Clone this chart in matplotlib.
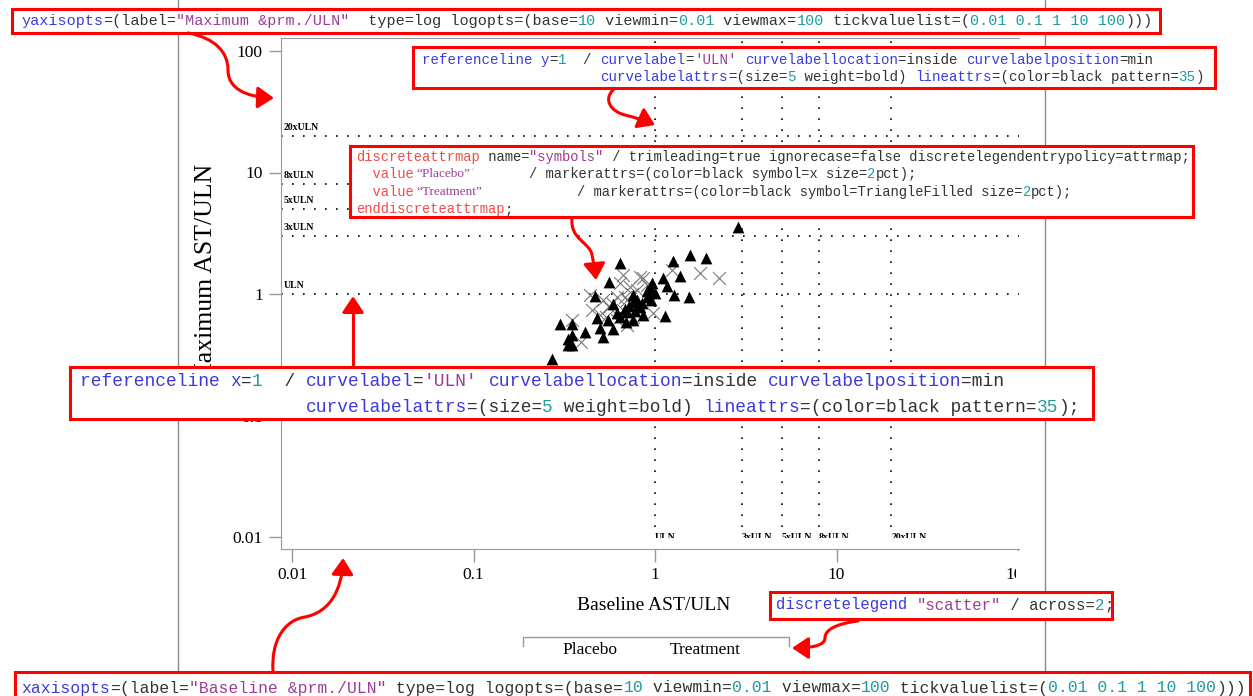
import matplotlib
matplotlib.use('Agg')
import numpy as np
import matplotlib.pyplot as plt
from matplotlib.patches import Rectangle, FancyArrowPatch
from matplotlib.lines import Line2D
from matplotlib.path import Path
from matplotlib.transforms import Affine2D
from matplotlib.ticker import NullLocator

plt.rcParams['font.family'] = ['Liberation Serif', 'DejaVu Serif']

# data
treat_x = [1.56, 1.91, 1.26, 0.64, 1.37, 1.11, 0.56, 1.16, 0.96, 0.94, 1.27, 1.54, 0.47, 0.76, 0.90,
           1.00, 0.59, 0.76, 0.83, 0.70, 0.86, 0.64, 0.48, 0.55, 1.14, 0.76, 0.50, 0.59, 0.30, 0.35,
           0.41, 0.52, 0.35, 0.33, 0.33, 0.35, 0.27, 2.87, 0.69, 0.62, 0.80, 0.85, 0.72, 0.90, 0.68,
           0.95, 0.78]
treat_y = [2.09, 1.98, 1.87, 1.80, 1.41, 1.35, 1.26, 1.16, 1.23, 1.12, 0.98, 0.94, 0.96, 0.98, 0.94,
           1.02, 0.83, 0.86, 0.78, 0.71, 0.67, 0.65, 0.63, 0.61, 0.66, 0.61, 0.53, 0.52, 0.57, 0.57,
           0.49, 0.44, 0.46, 0.43, 0.38, 0.38, 0.29, 3.56, 0.59, 0.70, 0.90, 0.85, 0.80, 1.05, 0.75,
           0.90, 0.72]
placebo_x = [1.77, 2.25, 0.67, 0.83, 0.64, 0.44, 0.52, 0.56, 0.45, 0.50, 0.73, 0.80, 0.97, 0.70,
             0.35, 0.39, 0.86, 1.24, 0.62, 0.67, 0.54, 0.76, 0.62, 0.90, 0.70, 0.58, 0.75, 0.68]
placebo_y = [1.49, 1.35, 1.43, 1.38, 1.23, 0.98, 0.89, 0.78, 0.74, 0.67, 1.14, 1.08, 0.70, 0.56,
             0.61, 0.40, 1.35, 1.58, 0.94, 0.74, 0.65, 0.65, 0.61, 1.19, 0.89, 0.85, 1.00, 0.95]

ref_vals = [1, 3, 5, 8, 20]
ref_labels = ['ULN', '3xULN', '5xULN', '8xULN', '20xULN']
ticks = [0.01, 0.1, 1, 10, 100]
tick_labels = ['0.01', '0.1', '1', '10', '100']
legend_labels = ['Placebo', 'Treatment']

W, H = 1253, 696
fig = plt.figure(figsize=(W / 100, H / 100), dpi=100)
renderer = fig.canvas.get_renderer()
# pixel coords (origin top-left) for the annotation layer
tr = Affine2D().scale(1 / W, -1 / H).translate(0, 1) + fig.transFigure

ax = fig.add_axes([281 / W, 1 - 549 / H, (1019 - 281) / W, (549 - 38) / H])
ax.set_xscale('log')
ax.set_yscale('log')
ax.set_xlim(10 ** (-2 - 11 / 181.5), 10 ** (2 + 1 / 181.5))
ax.set_ylim(10 ** (-255 / 121.5), 10 ** (256 / 121.5))
ax.set_xticks(ticks)
ax.set_xticklabels(tick_labels)
ax.set_yticks(ticks)
ax.set_yticklabels(tick_labels)
ax.xaxis.set_minor_locator(NullLocator())
ax.yaxis.set_minor_locator(NullLocator())
ax.tick_params(direction='out', length=9, width=1, color='#999999', labelsize=12.5, pad=4)
ax.spines['right'].set_visible(False)
for s in ['left', 'bottom', 'top']:
    ax.spines[s].set_color('#999999')

dots = (0, (1, 5.6))
vmin = 0.012
for v, lbl in zip(ref_vals, ref_labels):
    ax.axhline(v, color='black', lw=1.2, ls=dots, zorder=1)
    ax.annotate(lbl, xy=(0, v), xycoords=ax.get_yaxis_transform(), xytext=(2, 3),
                textcoords='offset points', fontsize=7, fontweight='bold', ha='left', va='bottom')
    ax.vlines(v, vmin, ax.get_ylim()[1], color='black', lw=1.2, linestyles=[dots], zorder=1)
    ax.annotate(lbl, xy=(v, vmin), xytext=(0, -4), textcoords='offset points',
                fontsize=7, fontweight='bold', ha='left', va='top')

ax.scatter(placebo_x, placebo_y, marker='x', s=85, c='#7a7a7a', linewidths=0.8, zorder=3)
ax.scatter(treat_x, treat_y, marker='^', s=72, c='black', linewidths=0, zorder=4)

fig.text(654, 606, 'Baseline AST/ULN', transform=tr, fontsize=14, ha='center', va='center')
fig.text(206, 274, 'Maximum AST/ULN', transform=tr, fontsize=18.5, rotation=90,
         ha='center', va='center')

# cropped parts of the original graph
for x0, y0, w, h in [(560, 609.5, 200, 20), (1016, 551, 26, 40), (283, 538, 730, 9.5)]:
    fig.add_artist(Rectangle((x0, y0), w, h, transform=tr, fc='white', ec='none', zorder=6))

# legend
fig.add_artist(Line2D([523, 523, 789, 789], [646, 637, 637, 646], transform=tr,
                      color='#999999', lw=1))
for xc, lbl in zip([590, 705], legend_labels):
    fig.text(xc, 650, lbl, transform=tr, fontsize=12.5, ha='center', va='center')

# page borders
for xp in [178, 1045]:
    fig.add_artist(Line2D([xp, xp], [0, H], transform=tr, color='#8a8a8a', lw=1, zorder=2))

# code call-outs
B, K, P, T, S = '#3b3bdc', '#333333', '#9b3d97', '#1f9c9c', '#f24b4b'


def text_w(n, size):
    t = fig.text(0, 0, 'x' * n, family='Liberation Mono', fontsize=size)
    w = t.get_window_extent(renderer).width
    t.remove()
    return w


def char_width(size):
    return (text_w(200, size) - text_w(100, size)) / 100


def fit(target):
    sizes = np.arange(target / 0.6 * 0.72 - 1, target / 0.6 * 0.72 + 1, 0.05)
    best = min(sizes, key=lambda s: abs(char_width(s) - target))
    return best, char_width(best)


def box(x0, y0, x1, y1):
    fig.add_artist(Rectangle((x0, y0), x1 - x0, y1 - y0, transform=tr, fc='white',
                             ec='red', lw=2.2, zorder=10))


def code(x, y, segs, font):
    size, cw = font
    for s, col in segs:
        fig.text(x, y, s, transform=tr, color=col, fontsize=size, family='Liberation Mono',
                 ha='left', va='center', zorder=11)
        x += len(s) * cw


def axisopts(name, label, gap):
    return [(name, B), ('=(label=', K), (label, P), (gap + 'type=log logopts=(base=', K),
            ('10', T), (' viewmin=', K), ('0.01', T), (' viewmax=', K), ('100', T),
            (' tickvaluelist=(', K), ('0.01 0.1 1 10 100', T), (')))', K)]


def refline(axname, end):
    l1 = [('referenceline ', B), (axname, B), ('=', K), ('1', T), ('  / ', K), ('curvelabel', B),
          ('=', K), ("'ULN'", P), (' ', K), ('curvelabellocation', B), ('=inside ', K),
          ('curvelabelposition', B), ('=min', K)]
    l2 = [('curvelabelattrs', B), ('=(size=', K), ('5', T), (' weight=bold) ', K),
          ('lineattrs', B), ('=(color=black pattern=', K), ('35', T), (end, K)]
    return l1, l2


f1 = fit(9.15)
box(12, 9, 1160, 33)
code(21, 21, axisopts('yaxisopts', '"Maximum &prm./ULN"', '  '), f1)

f2 = fit(8.5)
box(413, 47, 1215, 88)
l1, l2 = refline('y', ')')
code(422, 60, l1, f2)
code(422 + 21 * f2[1], 77, l2, f2)

f3 = fit(8.21)
box(350, 146, 1193, 217)
code(356, 157, [('discreteattrmap', S), (' name=', K), ('"symbols"', P),
                (' / trimleading=true ignorecase=false discretelegendentrypolicy=attrmap;', K)], f3)
code(356, 174, [('  value', S)], f3)
code(356, 192, [('  value', S)], f3)
fig.text(416, 174, '\u201cPlacebo\u201d', transform=tr, color=P, fontsize=9.5, va='center', zorder=11)
fig.text(416, 192, '\u201cTreatment\u201d', transform=tr, color=P, fontsize=9.5, va='center', zorder=11)
fig.text(472, 172, "'", transform=tr, color='#bbbbbb', fontsize=8, va='center', zorder=11)
code(529, 174, [('/ markerattrs=(color=black symbol=x size=', K), ('2', T), ('pct);', K)], f3)
code(577, 192, [('/ markerattrs=(color=black symbol=TriangleFilled size=', K), ('2', T),
                ('pct);', K)], f3)
code(356, 209, [('enddiscreteattrmap', S), (';', K)], f3)

f4 = fit(10.75)
box(70, 367, 1093, 419)
l1, l2 = refline('x', ');')
code(80, 381, l1, f4)
code(80 + 21 * f4[1], 407, l2, f4)

f5 = fit(9.33)
box(770, 592, 1112, 619)
code(776, 605, [('discretelegend', B), (' ', K), ('"scatter"', P), (' / across=', K), ('2', T),
                (';', K)], f5)

f6 = fit(9.85)
box(15, 672, 1250, 706)
code(21, 688, axisopts('xaxisopts', '"Baseline &prm./ULN"', ' '), f6)

# red arrows
C = Path.CURVE4
arrows = [
    ([(188, 33), (215, 38), (228, 52), (228, 70), (228, 88), (245, 97), (274, 98)],
     [Path.MOVETO, C, C, C, C, C, C]),
    ([(614, 89), (602, 100), (612, 112), (625, 115), (636, 118), (644, 120), (655, 125)],
     [Path.MOVETO, C, C, C, C, C, C]),
    ([(572, 218), (570, 240), (590, 242), (592, 255), (594, 265), (595, 270), (596, 280)],
     [Path.MOVETO, C, C, C, C, C, C]),
    ([(353, 366), (353, 296)], [Path.MOVETO, Path.LINETO]),
    ([(273, 671), (271, 640), (285, 620), (305, 617), (330, 612), (342, 590), (343, 558)],
     [Path.MOVETO, C, C, C, C, C, C]),
    ([(858, 621), (835, 624), (825, 630), (825, 638), (825, 646), (810, 648), (792, 648)],
     [Path.MOVETO, C, C, C, C, C, C]),
]
for verts, codes in arrows:
    fig.add_artist(FancyArrowPatch(path=Path(verts, codes), transform=tr,
                                   arrowstyle='-|>,head_length=0.45,head_width=0.3',
                                   mutation_scale=22, color='red', lw=2.2, zorder=12))

fig.savefig('out.png', dpi=100)
